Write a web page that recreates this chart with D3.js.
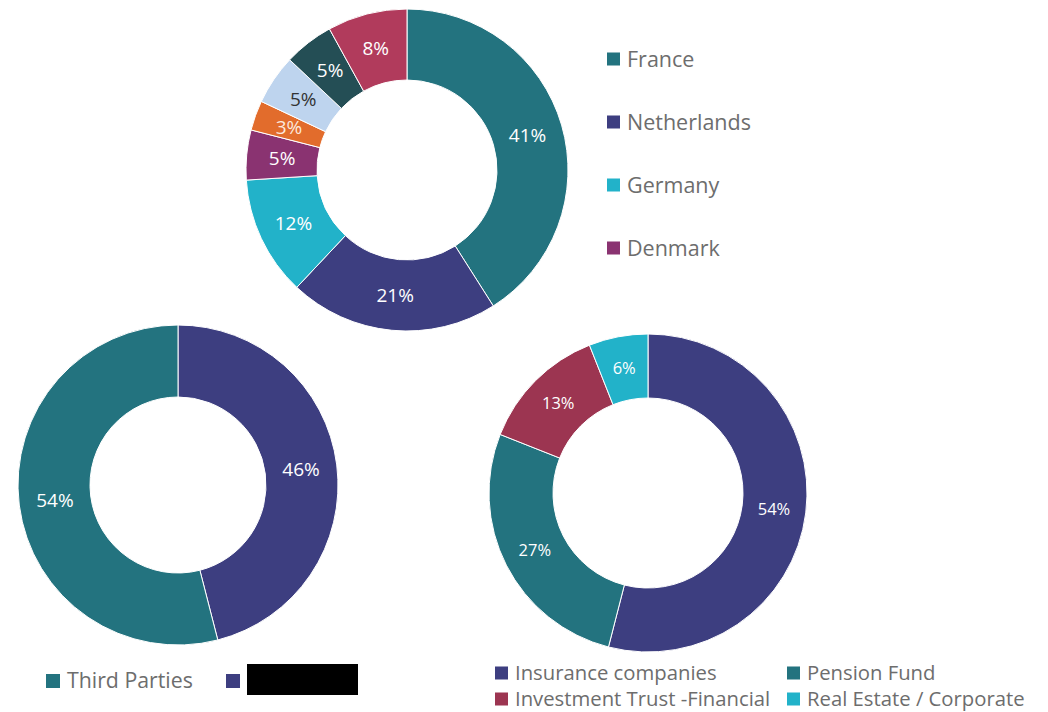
<!DOCTYPE html>
<html>
<head>
<meta charset="utf-8">
<script src="https://cdn.jsdelivr.net/npm/d3@7"></script>
<style>
  body { margin: 0; background: #fff; }
  text { font-family: "Open Sans", "Noto Sans", sans-serif; }
</style>
</head>
<body>
<div class="charts"></div>
<script>
// country split (top donut)
var countryNames = ["France", "Netherlands", "Germany", "Denmark", "Other 1", "Other 2", "Other 3", "Other 4"];
var countryValues = [41, 21, 12, 5, 3, 5, 5, 8];
var countryColors = ["#23737F", "#3D3E80", "#22B2C9", "#8A3371", "#E26C2C", "#BED4EE", "#244E55", "#B13B5C"];
var countryLabelColors = ["#fff", "#fff", "#fff", "#fff", "#fce8dc", "#333", "#fff", "#fff"];
var countryLegend = ["France", "Netherlands", "Germany", "Denmark"];

// owner split (bottom left donut)
var ownerNames = ["Redacted", "Third Parties"];
var ownerValues = [46, 54];
var ownerColors = ["#3D3E80", "#23737F"];

// investor type split (bottom right donut)
var investorNames = ["Insurance companies", "Pension Fund", "Investment Trust -Financial", "Real Estate / Corporate"];
var investorValues = [54, 27, 13, 6];
var investorColors = ["#3D3E80", "#23737F", "#9C3551", "#22B2C9"];

var width = 1048;
var height = 712;

var svg = d3.select(".charts")
    .append("svg")
    .attr("width", width)
    .attr("height", height);

function drawDonut(cx, cy, outer, inner, values, colors, labelColors, fontSize) {
    var pie = d3.pie().sort(null).value(function (d) { return d; });
    var arc = d3.arc().innerRadius(inner).outerRadius(outer);
    var g = svg.append("g").attr("transform", "translate(" + cx + "," + cy + ")");
    var arcs = pie(values);

    g.selectAll("path")
        .data(arcs)
        .enter()
        .append("path")
        .attr("d", arc)
        .style("fill", function (d, i) { return colors[i]; })
        .style("stroke", "#fff")
        .style("stroke-width", "1");

    g.selectAll("text")
        .data(arcs)
        .enter()
        .append("text")
        .attr("transform", function (d) { return "translate(" + arc.centroid(d) + ")"; })
        .attr("text-anchor", "middle")
        .attr("dy", "0.35em")
        .style("font-size", fontSize + "px")
        .style("fill", function (d, i) { return labelColors ? labelColors[i] : "#fff"; })
        .text(function (d) { return d.data + "%"; });
}

drawDonut(407, 170, 161, 90, countryValues, countryColors, countryLabelColors, 19);
drawDonut(178, 485, 160, 88, ownerValues, ownerColors, null, 19);
drawDonut(648, 493, 159, 95, investorValues, investorColors, null, 16.5);

function legendItem(x, y, color, label, size, fontSize) {
    svg.append("rect")
        .attr("x", x)
        .attr("y", y - size / 2)
        .attr("width", size)
        .attr("height", size)
        .style("fill", color);
    if (label) {
        svg.append("text")
            .attr("x", x + size + 7)
            .attr("y", y)
            .attr("dy", "0.35em")
            .style("font-size", fontSize + "px")
            .style("fill", "#6d6d6d")
            .text(label);
    }
}

// top legend
var legY = d3.scalePoint().domain(countryLegend).range([59, 248]);
countryLegend.forEach(function (name, i) {
    legendItem(607, legY(name), countryColors[i], name, 13, 21.5);
});

// bottom left legend
legendItem(46, 681, ownerColors[1], ownerNames[1], 14, 21.3);
legendItem(226, 681, ownerColors[0], null, 14, 21);
svg.append("rect")
    .attr("x", 247)
    .attr("y", 664)
    .attr("width", 111)
    .attr("height", 31)
    .style("fill", "#000");

// bottom right legend
var invPos = [[495, 673], [787, 673], [495, 699], [787, 699]];
investorNames.forEach(function (name, i) {
    legendItem(invPos[i][0], invPos[i][1], investorColors[i], name, 13, 20.3);
});
</script>
</body>
</html>
